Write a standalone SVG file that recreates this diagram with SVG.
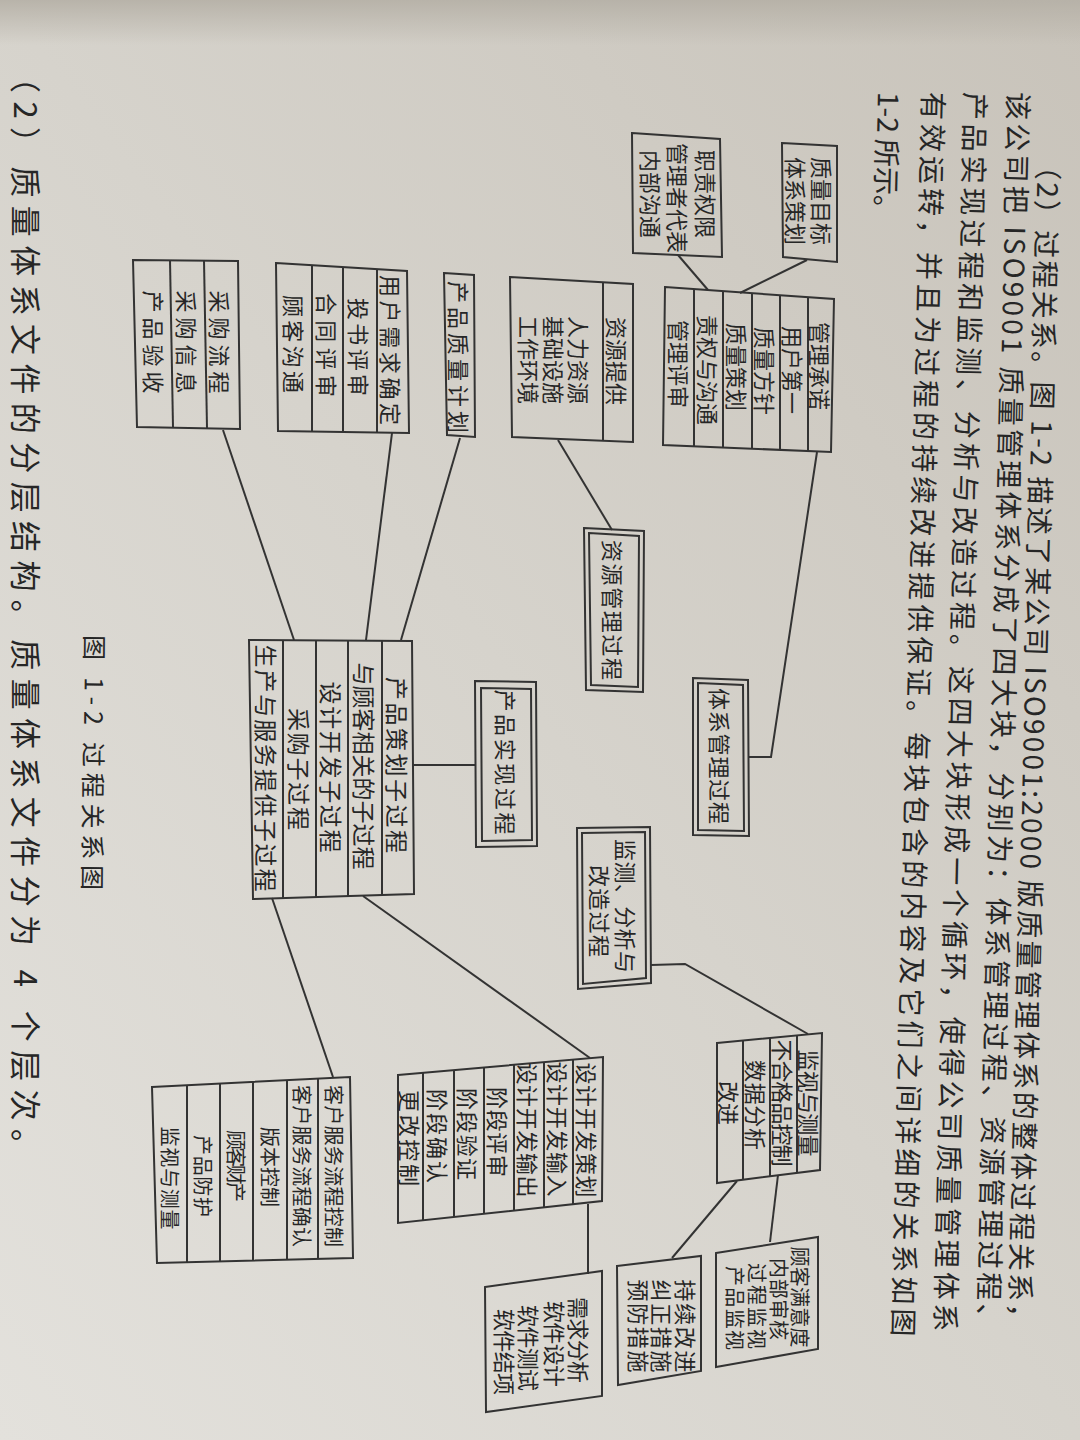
<svg xmlns="http://www.w3.org/2000/svg" width="1080" height="1440" viewBox="0 0 1080 1440">
<defs>
<linearGradient id="paper" x1="1" y1="0" x2="0" y2="1">
<stop offset="0" stop-color="#c8c3ba"/>
<stop offset="0.5" stop-color="#d6d3cc"/>
<stop offset="1" stop-color="#e3e1dc"/>
</linearGradient>
<linearGradient id="topband" x1="0" y1="0" x2="0" y2="1">
<stop offset="0" stop-color="#b5b0a6" stop-opacity="0.9"/>
<stop offset="1" stop-color="#b5b0a6" stop-opacity="0"/>
</linearGradient>
<style>
.box{fill:none;stroke:#333;stroke-width:2;stroke-linejoin:miter}
.ln{fill:none;stroke:#333;stroke-width:2}
.b{font-family:"Noto Sans CJK SC","Noto Sans CJK TC",sans-serif;font-size:22px;fill:#262626;text-anchor:middle;dominant-baseline:central}
.s{font-size:20px}
.m{font-size:23px}
.p{font-family:"Noto Sans CJK SC","Noto Sans CJK TC",sans-serif;font-size:28px;fill:#262626;dominant-baseline:central}
</style>
</defs>
<rect x="0" y="0" width="1080" height="1440" fill="url(#paper)"/>
<rect x="0" y="0" width="1080" height="45" fill="url(#topband)"/>

<g id="paragraph">
<text class="p" transform="translate(1050,152) rotate(91.4)" textLength="1180" lengthAdjust="spacing">（2）过程关系。图 1-2 描述了某公司 ISO9001:2000 版质量管理体系的整体过程关系，</text>
<text class="p" transform="translate(1020,92) rotate(91.4)" textLength="1240" lengthAdjust="spacing">该公司把 ISO9001 质量管理体系分成了四大块，分别为：体系管理过程、资源管理过程、</text>
<text class="p" transform="translate(977,92) rotate(91.4)" textLength="1240" lengthAdjust="spacing">产品实现过程和监测、分析与改造过程。这四大块形成一个循环，使得公司质量管理体系</text>
<text class="p" transform="translate(935,92) rotate(91.4)" textLength="1245" lengthAdjust="spacing">有效运转，并且为过程的持续改进提供保证。每块包含的内容及它们之间详细的关系如图</text>
<text class="p" transform="translate(890,92) rotate(91.4)">1-2 所示。</text>
</g>

<g id="connectors">
<polyline class="ln" points="807,260 740,293"/>
<polyline class="ln" points="678,255 708,290"/>
<polyline class="ln" points="817,452 771,757 749,757"/>
<polyline class="ln" points="558,440 612,530"/>
<polyline class="ln" points="223,430 294,640"/>
<polyline class="ln" points="392,433 366,640"/>
<polyline class="ln" points="460,438 401,640"/>
<polyline class="ln" points="413,765 476,765"/>
<polyline class="ln" points="272,898 333,1077"/>
<polyline class="ln" points="363,896 590,1058"/>
<polyline class="ln" points="588,1204 588,1274"/>
<polyline class="ln" points="651,965 685,964 808,1034"/>
<polyline class="ln" points="737,1181 672,1258"/>
<polyline class="ln" points="778,1175 770,1242"/>
</g>

<g id="n-zhiliangmubiao">
<polygon class="box" points="782,143 837,146 837,262 783,257"/>
<text class="b" transform="translate(823,201) rotate(90)">质量目标</text>
<text class="b" transform="translate(797,201) rotate(90)">体系策划</text>
</g>

<g id="n-zhizequanxian">
<polygon class="box" points="632,133 720,139 722,257 633,253"/>
<text class="b" transform="translate(707,194) rotate(90)">职责权限</text>
<text class="b" transform="translate(679,198) rotate(90)">管理者代表</text>
<text class="b" transform="translate(652,194) rotate(90)">内部沟通</text>
</g>

<g id="n-guanlichengnuo">
<polygon class="box" points="665,287 834,299 831,452 663,445"/>
<line class="ln" x1="694" y1="289" x2="694" y2="446"/>
<line class="ln" x1="723" y1="291" x2="723" y2="447.5"/>
<line class="ln" x1="752" y1="293" x2="752" y2="449"/>
<line class="ln" x1="780" y1="295" x2="780" y2="450"/>
<line class="ln" x1="808" y1="297" x2="808" y2="451"/>
<text class="b" transform="translate(821,366) rotate(90)">管理承诺</text>
<text class="b" transform="translate(794,370) rotate(90)">用户第一</text>
<text class="b" transform="translate(766,371) rotate(90)">质量方针</text>
<text class="b" transform="translate(737.5,367) rotate(90)">质量策划</text>
<text class="b" transform="translate(708.5,370) rotate(90)">责权与沟通</text>
<text class="b" transform="translate(679.5,364) rotate(90)">管理评审</text>
</g>

<g id="n-ziyuantigong">
<polygon class="box" points="510,277 633,284 633,442 512,437"/>
<line class="ln" x1="603" y1="282" x2="603" y2="441"/>
<text class="b" transform="translate(618,361) rotate(90)">资源提供</text>
<text class="b" transform="translate(580,360) rotate(90)">人力资源</text>
<text class="b" transform="translate(555,360) rotate(90)">基础设施</text>
<text class="b" transform="translate(530,360) rotate(90)">工作环境</text>
</g>

<g id="n-ziyuanguanli">
<polygon class="box" points="584,528 644,531 643,692 586,690"/>
<polygon class="box" points="589,533 639,536 638,687 591,685"/>
<text class="b" transform="translate(614,610) rotate(90)" textLength="140">资源管理过程</text>
</g>

<g id="n-tixiguanli">
<polygon class="box" points="693,678 748,680 749,836 693,835"/>
<polygon class="box" points="698,683 743,685 744,831 698,830"/>
<text class="b" transform="translate(721,756) rotate(90)" textLength="136">体系管理过程</text>
</g>

<g id="n-chanpinshixian">
<polygon class="box" points="475,681 536,682 537,846 476,847"/>
<polygon class="box" points="481,688 531,689 532,840 482,841"/>
<text class="b" transform="translate(507,762) rotate(90)" textLength="145">产品实现过程</text>
</g>

<g id="n-chanpincehua">
<polygon class="box" points="249,640 412,641 414,894 253,899"/>
<line class="ln" x1="382" y1="641" x2="382" y2="895"/>
<line class="ln" x1="348" y1="641" x2="348" y2="896"/>
<line class="ln" x1="316" y1="640.5" x2="316" y2="897"/>
<line class="ln" x1="283" y1="640.5" x2="283" y2="898"/>
<text class="b m" transform="translate(397.5,765) rotate(90)" textLength="176">产品策划子过程</text>
<text class="b m" transform="translate(365,766) rotate(90)" textLength="207">与顾客相关的子过程</text>
<text class="b m" transform="translate(332,767) rotate(90)" textLength="171">设计开发子过程</text>
<text class="b m" transform="translate(299.5,769) rotate(90)" textLength="122">采购子过程</text>
<text class="b m" transform="translate(267,768) rotate(90)" textLength="247">生产与服务提供子过程</text>
</g>

<g id="n-yonghuxuqiu">
<polygon class="box" points="276,263 407,271 409,433 278,431"/>
<line class="ln" x1="377" y1="269" x2="377" y2="432.5"/>
<line class="ln" x1="343" y1="267" x2="343" y2="432"/>
<line class="ln" x1="312" y1="265" x2="312" y2="431.5"/>
<text class="b" transform="translate(392,350) rotate(90)" textLength="150">用户需求确定</text>
<text class="b" transform="translate(360,347) rotate(90)" textLength="98">投书评审</text>
<text class="b" transform="translate(327.5,345) rotate(90)" textLength="104">合同评审</text>
<text class="b" transform="translate(295,344) rotate(90)" textLength="98">顾客沟通</text>
</g>

<g id="n-chanpinzhiliang">
<polygon class="box" points="444,273 474,275 475,437 447,435"/>
<text class="b" transform="translate(460,357) rotate(90)" textLength="152">产品质量计划</text>
</g>

<g id="n-caigou">
<polygon class="box" points="133,260 238,261 240,429 137,427"/>
<line class="ln" x1="204" y1="260.5" x2="207" y2="428"/>
<line class="ln" x1="170" y1="260" x2="173" y2="427.5"/>
<text class="b" transform="translate(221,342) rotate(90)" textLength="103">采购流程</text>
<text class="b" transform="translate(188,342) rotate(90)" textLength="103">采购信息</text>
<text class="b" transform="translate(155,342) rotate(90)" textLength="103">产品验收</text>
</g>

<g id="n-jiance">
<polygon class="box" points="577,828 650,827 651,983 578,989"/>
<polygon class="box" points="582,833 645,832 646,978 583,984"/>
<text class="b" transform="translate(627,906) rotate(90)" textLength="134">监测、分析与</text>
<text class="b" transform="translate(601,911) rotate(90)" textLength="92">改造过程</text>
</g>

<g id="n-jianshi">
<polygon class="box" points="717,1043 822,1033 820,1170 717,1183"/>
<line class="ln" x1="743" y1="1040.5" x2="743" y2="1179.7"/>
<line class="ln" x1="770" y1="1038" x2="770" y2="1176.3"/>
<line class="ln" x1="797" y1="1035.4" x2="797" y2="1172.9"/>
<text class="b" transform="translate(809.5,1103) rotate(90)" textLength="107">监视与测量</text>
<text class="b" transform="translate(783.5,1103) rotate(90)" textLength="127">不合格品控制</text>
<text class="b" transform="translate(756.5,1105) rotate(90)" textLength="90">数据分析</text>
<text class="b" transform="translate(730,1103) rotate(90)">改进</text>
</g>

<g id="n-gukemanyi">
<polygon class="box" points="716,1253 818,1237 818,1349 716,1367"/>
<text class="b s" transform="translate(800,1297) rotate(90)" textLength="101">顾客满意度</text>
<text class="b s" transform="translate(779,1299) rotate(90)" textLength="82">内部审核</text>
<text class="b s" transform="translate(757,1306) rotate(90)" textLength="86">过程监视</text>
<text class="b s" transform="translate(735,1308) rotate(90)" textLength="84">产品监视</text>
</g>

<g id="n-chixugaijin">
<polygon class="box" points="617,1266 701,1256 701,1371 618,1385"/>
<text class="b" transform="translate(687,1326) rotate(90)" textLength="93">持续改进</text>
<text class="b" transform="translate(663,1326) rotate(90)" textLength="93">纠正措施</text>
<text class="b" transform="translate(640,1326) rotate(90)" textLength="93">预防措施</text>
</g>

<g id="n-shejikaifa">
<polygon class="box" points="398,1075 603,1057 602,1201 398,1223"/>
<line class="ln" x1="423" y1="1072.8" x2="423" y2="1220.3"/>
<line class="ln" x1="454" y1="1070.1" x2="454" y2="1217"/>
<line class="ln" x1="484" y1="1067.4" x2="484" y2="1213.7"/>
<line class="ln" x1="514" y1="1064.8" x2="514" y2="1210.5"/>
<line class="ln" x1="544" y1="1062.2" x2="544" y2="1207.3"/>
<line class="ln" x1="573" y1="1059.6" x2="573" y2="1204.1"/>
<text class="b" transform="translate(588,1130) rotate(90)" textLength="135">设计开发策划</text>
<text class="b" transform="translate(558.5,1129) rotate(90)" textLength="135">设计开发输入</text>
<text class="b" transform="translate(529,1130) rotate(90)" textLength="135">设计开发输出</text>
<text class="b" transform="translate(499,1132) rotate(90)" textLength="90">阶段评审</text>
<text class="b" transform="translate(469,1134) rotate(90)" textLength="92">阶段验证</text>
<text class="b" transform="translate(438.5,1136) rotate(90)" textLength="94">阶段确认</text>
<text class="b" transform="translate(410.5,1138) rotate(90)" textLength="96">更改控制</text>
</g>

<g id="n-xuqiufenxi">
<polygon class="box" points="485,1287 602,1271 602,1396 486,1412"/>
<text class="b" transform="translate(580,1340) rotate(90)" textLength="86">需求分析</text>
<text class="b" transform="translate(556,1344) rotate(90)" textLength="86">软件设计</text>
<text class="b" transform="translate(530,1348) rotate(90)" textLength="86">软件测试</text>
<text class="b" transform="translate(506,1352) rotate(90)" textLength="86">软件结项</text>
</g>

<g id="n-kehufuwu">
<polygon class="box" points="152,1087 350,1077 353,1258 157,1263"/>
<line class="ln" x1="318" y1="1078.6" x2="318" y2="1258.9"/>
<line class="ln" x1="287" y1="1080.2" x2="287" y2="1259.8"/>
<line class="ln" x1="253" y1="1081.9" x2="253" y2="1260.6"/>
<line class="ln" x1="220" y1="1083.6" x2="220" y2="1261.4"/>
<line class="ln" x1="187" y1="1085.2" x2="187" y2="1262.2"/>
<text class="b s" transform="translate(334,1166) rotate(90)" textLength="162">客户服务流程控制</text>
<text class="b s" transform="translate(302.5,1166) rotate(90)" textLength="162">客户服务流程确认</text>
<text class="b s" transform="translate(270,1167) rotate(90)" textLength="80">版本控制</text>
<text class="b s" transform="translate(236.5,1166) rotate(90)" textLength="72">顾客财产</text>
<text class="b s" transform="translate(203.5,1176) rotate(90)" textLength="82">产品防护</text>
<text class="b s" transform="translate(170,1178) rotate(90)" textLength="103">监视与测量</text>
</g>

<g id="caption">
<text class="p" style="font-size:25px" transform="translate(96,635) rotate(90.5)" textLength="255" lengthAdjust="spacing">图 1-2   过程关系图</text>
</g>

<g id="bottomline">
<text class="p" style="font-size:31px" transform="translate(27,62) rotate(90)" textLength="1098" lengthAdjust="spacing">（2）质量体系文件的分层结构。质量体系文件分为 4 个层次。</text>
</g>
</svg>
